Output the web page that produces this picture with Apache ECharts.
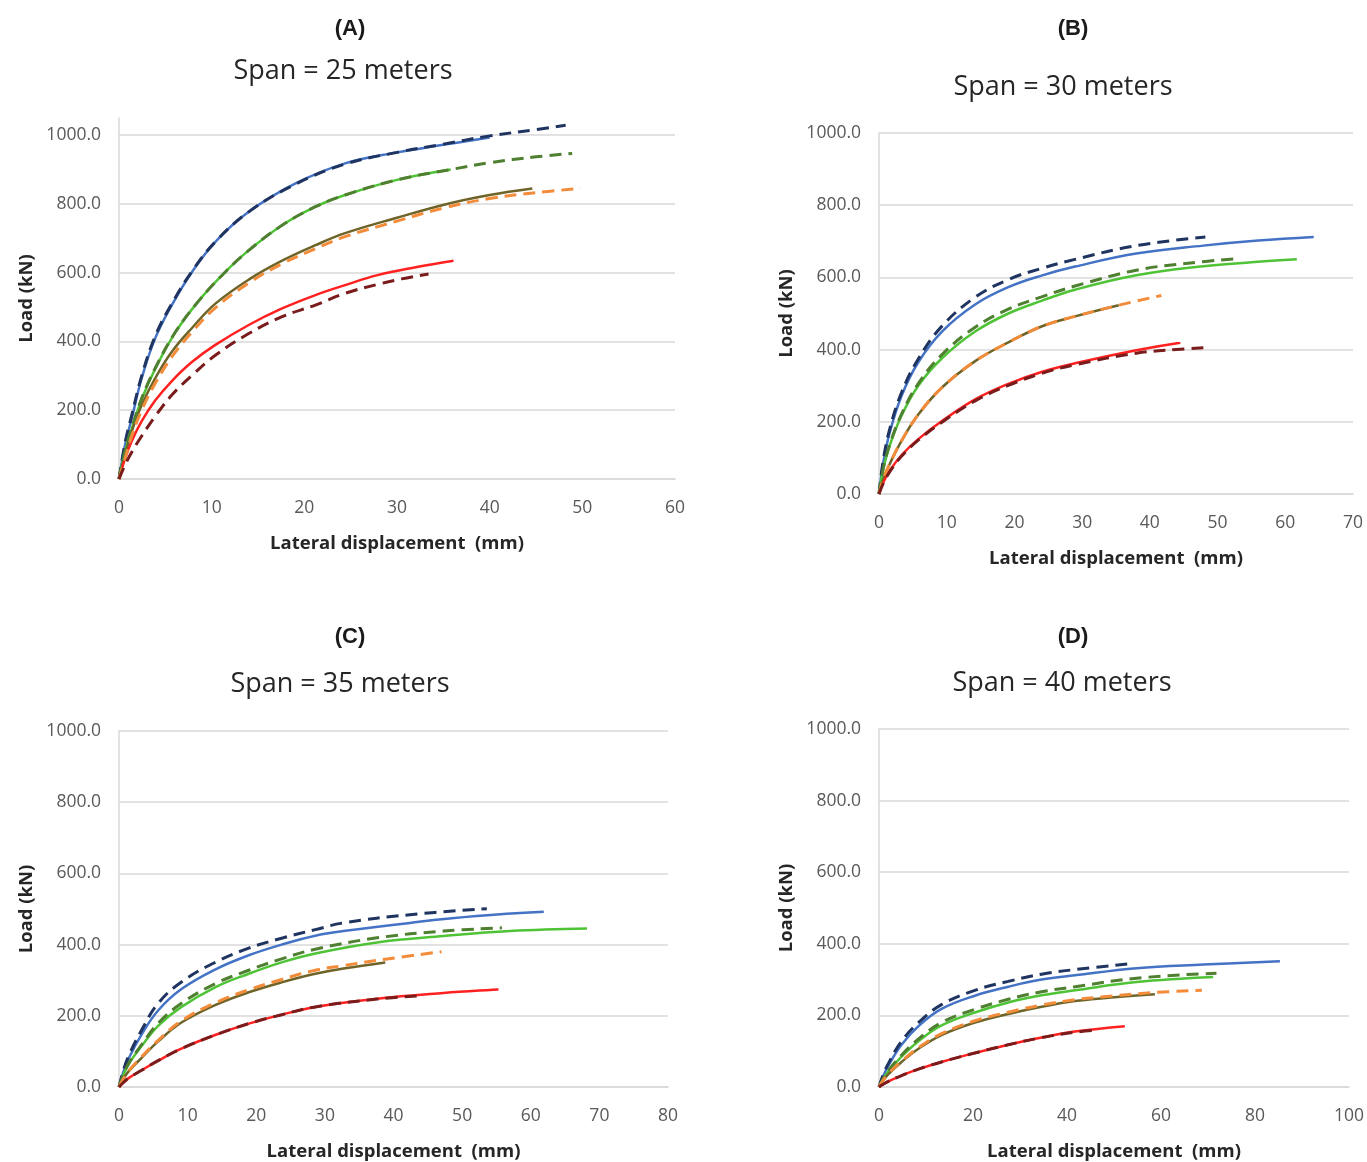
<!DOCTYPE html>
<html><head><meta charset="utf-8">
<script src="https://cdn.jsdelivr.net/npm/echarts@6/dist/echarts.min.js"></script>
<style>html,body{margin:0;padding:0;background:#fff}#c{width:1367px;height:1162px}</style>
</head><body><div id="c"></div>
<script>
// ---------- DATA (lateral displacement mm, load kN) ----------
// Panel A: span 25 m
var aBlue    = [[0,0],[0.65,99],[1.37,176],[2.45,293],[3.9,409],[5.7,506],[7.9,603],[10.4,690],[14,777],[19,859],[24.4,918],[30,950],[35,972],[40,993]];
var aNavy    = [[0,0],[0.65,105],[1.37,185],[2.45,300],[3.9,415],[5.7,510],[7.9,605],[10.4,690],[14,777],[19,857],[24.4,916],[30,950],[35,974],[40,998],[45,1016],[48.2,1029]];
var aGreen   = [[0,0],[0.6,75],[1.37,145],[2.45,232],[3.9,320],[6.05,425],[8.6,518],[11.5,603],[14,665],[17.6,738],[21.2,792],[24.4,826],[30,870],[35.8,900]];
var aDkGreen = [[0,0],[0.6,77],[1.37,148],[2.45,235],[3.9,322],[6.05,426],[8.6,518],[11.5,603],[14,665],[17.6,738],[21.2,792],[24.4,826],[30,870],[35.8,900],[40,920],[45,937],[48.9,947]];
var aOlive   = [[0,0],[0.6,65],[1.37,138],[2.45,215],[3.9,293],[5.7,370],[7.9,440],[10.4,510],[14,580],[17.6,635],[21.2,680],[24.4,715],[30,760],[35.4,800],[40,826],[44.6,845]];
var aOrange  = [[0,0],[0.6,55],[1.37,125],[2.45,200],[3.9,278],[5.7,355],[7.9,428],[10.4,498],[14,570],[17.6,626],[21.2,670],[24.4,705],[30,750],[35,788],[40,816],[45,833],[49.8,845]];
var aRed     = [[0,0],[0.6,55],[1.37,110],[2.45,168],[3.9,228],[5.7,285],[7.9,341],[10.4,390],[14,448],[17.6,496],[21.2,535],[24.4,564],[27.9,593],[32,616],[36.1,635]];
var aDkRed   = [[0,0],[0.6,38],[1.37,78],[2.45,125],[3.9,182],[5.7,244],[7.9,302],[10.4,360],[14,423],[17.6,472],[21.2,506],[24.4,540],[27.9,566],[30.5,582],[33.4,596]];
// Panel B: span 30 m
var bBlue    = [[0,0],[0.64,88],[1.6,171],[3.35,273],[5.8,365],[9.3,450],[14.2,525],[19.1,573],[24,605],[28.95,630],[38,666],[47.9,688],[56,702],[64.2,712]];
var bNavy    = [[0,0],[0.64,95],[1.6,181],[3.35,282],[5.8,374],[9.3,465],[14.2,545],[19.1,594],[24,625],[28.95,650],[38,688],[48.2,712]];
var bGreen   = [[0,0],[0.64,70],[1.6,135],[3.35,218],[5.8,300],[9.3,376],[14.2,450],[19.1,500],[24,535],[28.95,566],[38,606],[47.9,631],[55,642],[61.7,650]];
var bDkGreen = [[0,0],[0.64,72],[1.6,138],[3.35,222],[5.8,306],[9.3,386],[14.2,462],[19.1,512],[24,546],[28.95,576],[38,620],[46,640],[52.8,652]];
var bOlive   = [[0,0],[0.64,42],[1.6,84],[3.35,148],[5.8,220],[9.3,295],[14.2,368],[19.1,420],[24,464],[28.95,492],[35.4,523]];
var bOrange  = [[0,0],[0.64,42],[1.6,84],[3.35,148],[5.8,220],[9.3,295],[14.2,368],[19.1,420],[24,464],[28.95,492],[35.4,523],[41.7,550]];
var bRed     = [[0,0],[0.64,32],[1.6,65],[3.35,108],[5.8,152],[9.3,202],[14.2,262],[19.1,305],[24,338],[28.95,362],[38,398],[44.5,419]];
var bDkRed   = [[0,0],[0.64,30],[1.6,62],[3.35,105],[5.8,149],[9.3,199],[14.2,258],[19.1,301],[24,334],[28.95,358],[38,390],[44.5,401],[47.9,405]];
// Panel C: span 35 m
var cBlue    = [[0,0],[0.6,40],[1.4,80],[3.3,148],[5.7,215],[9.1,275],[14,330],[18.9,370],[23.7,400],[28.6,425],[32.7,438],[42.4,461],[52.1,480],[61.9,492]];
var cNavy    = [[0,0],[0.6,44],[1.4,87],[3.3,160],[5.7,235],[9.1,295],[14,350],[18.9,390],[23.7,418],[28.6,442],[32.7,461],[42.4,484],[53.6,501]];
var cGreen   = [[0,0],[0.6,32],[1.4,64],[3.3,115],[5.7,172],[9.1,225],[14,280],[18.9,318],[23.7,350],[28.6,375],[37.6,406],[47.3,424],[57,438],[68.2,445]];
var cDkGreen = [[0,0],[0.6,33],[1.4,66],[3.3,119],[5.7,179],[9.1,235],[14,290],[18.9,328],[23.7,360],[28.6,387],[37.6,419],[47.3,438],[55.8,447]];
var cOlive   = [[0,0],[0.6,22],[1.4,44],[3.3,82],[5.7,128],[9.1,181],[14,230],[18.9,266],[23.7,294],[28.6,318],[32.7,333],[38.8,350]];
var cOrange  = [[0,0],[0.6,22],[1.4,45],[3.3,85],[5.7,131],[9.1,186],[14,236],[18.9,273],[23.7,302],[28.6,328],[32.7,341],[38.8,359],[47,380]];
var cRed     = [[0,0],[0.6,12],[1.4,25],[3.3,47],[5.7,74],[9.1,108],[14,146],[18.9,178],[23.7,203],[28.6,225],[37.6,248],[47.3,264],[55.3,274]];
var cDkRed   = [[0,0],[0.6,12],[1.4,25],[3.3,47],[5.7,74],[9.1,108],[14,146],[18.9,178],[23.7,203],[28.6,225],[37.6,247],[44.4,257]];
// Panel D: span 40 m
var dBlue    = [[0,0],[0.8,28],[2,60],[4.8,118],[8.4,170],[13.3,218],[20.4,255],[27.5,280],[34.6,300],[41.7,312],[54.8,332],[69,342],[85.3,351]];
var dNavy    = [[0,0],[0.8,31],[2,66],[4.8,128],[8.4,180],[13.3,230],[20.4,270],[27.5,295],[34.6,315],[41.7,328],[54.1,345]];
var dGreen   = [[0,0],[0.8,20],[2,44],[4.8,85],[8.4,128],[13.3,172],[20.4,208],[27.5,236],[34.6,256],[41.7,270],[54.8,293],[71.1,307]];
var dDkGreen = [[0,0],[0.8,21],[2,46],[4.8,89],[8.4,134],[13.3,180],[20.4,217],[27.5,245],[34.6,266],[41.7,280],[54.8,304],[71.8,318]];
var dOlive   = [[0,0],[0.8,17],[2,36],[4.8,70],[8.4,107],[13.3,145],[20.4,180],[27.5,204],[34.6,224],[41.7,240],[47.7,248],[58.7,259]];
var dOrange  = [[0,0],[0.8,17],[2,37],[4.8,72],[8.4,110],[13.3,149],[20.4,185],[27.5,209],[34.6,229],[41.7,244],[47.7,252],[58.7,264],[68.7,270]];
var dRed     = [[0,0],[0.8,7],[2,16],[4.8,32],[8.4,50],[13.3,70],[20.4,95],[27.5,118],[34.6,138],[41.7,155],[52.3,170]];
var dDkRed   = [[0,0],[0.8,7],[2,16],[4.8,32],[8.4,50],[13.3,70],[20.4,95],[27.5,118],[34.6,138],[41.7,153],[46.3,159]];

var panelLetters = ['(A)','(B)','(C)','(D)'];
var panelSpans   = ['Span = 25 meters','Span = 30 meters','Span = 35 meters','Span = 40 meters'];
var xMaxes       = [60, 70, 80, 100];
var xIntervals   = [10, 10, 10, 20];
var yTicks       = [0, 200, 400, 600, 800, 1000];
var xName = 'Lateral displacement  (mm)';
var yName = 'Load (kN)';

// ---------- LAYOUT ----------
var panelSeries = [
  {solid:[aBlue,aGreen,aOlive,aRed], dashed:[aNavy,aDkGreen,aOrange,aDkRed]},
  {solid:[bBlue,bGreen,bOlive,bRed], dashed:[bNavy,bDkGreen,bOrange,bDkRed]},
  {solid:[cBlue,cGreen,cOlive,cRed], dashed:[cNavy,cDkGreen,cOrange,cDkRed]},
  {solid:[dBlue,dGreen,dOlive,dRed], dashed:[dNavy,dDkGreen,dOrange,dDkRed]}
];
var solidColors  = ['#4472C4','#4FC336','#6E6428','#FF2020'];
var dashedColors = ['#1F3460','#4F7F30','#F28C3A','#7A1C1C'];
var grids = [
  {left:119, top:118, width:556, height:361, yMax:1050},
  {left:879, top:133, width:474, height:361, yMax:1000},
  {left:119, top:731, width:549, height:360, yMax:1000},
  {left:879, top:729, width:470, height:362, yMax:1000}
];
var titlePos = [
  {lx:350, ly:29, sx:343, sy:71},
  {lx:1073, ly:29, sx:1063, sy:87},
  {lx:350, ly:637, sx:340, sy:684},
  {lx:1073, ly:637, sx:1062, sy:683}
];
var labelColor = '#595959';
var font = '"Open Sans", "Liberation Sans", sans-serif';

var option = {
  backgroundColor:'#ffffff',
  animation:false,
  grid:[], xAxis:[], yAxis:[], series:[], graphic:[]
};
grids.forEach(function(g, i){
  option.grid.push({left:g.left, top:g.top, width:g.width, height:g.height, containLabel:false});
  option.xAxis.push({
    type:'value', gridIndex:i, min:0, max:xMaxes[i], interval:xIntervals[i],
    name:xName, nameLocation:'middle', nameGap:55,
    nameTextStyle:{fontFamily:font, fontWeight:'bold', fontSize:18.5, color:'#262626'},
    axisLine:{show:true, lineStyle:{color:'#d9d9d9', width:1.5}},
    axisTick:{show:false},
    splitLine:{show:false},
    axisLabel:{margin:20, color:labelColor, fontFamily:font, fontSize:17.5}
  });
  var gridColors = yTicks.map(function(){return '#d9d9d9';});
  gridColors.push('rgba(0,0,0,0)');
  option.yAxis.push({
    type:'value', gridIndex:i, min:0, max:g.yMax, interval:200,
    name:yName, nameLocation:'middle', nameGap:83, nameRotate:90,
    nameTextStyle:{fontFamily:font, fontWeight:'bold', fontSize:18.5, color:'#262626'},
    axisLine:{show:true, lineStyle:{color:'#d9d9d9', width:1.5}},
    axisTick:{show:false},
    splitLine:{show:true, lineStyle:{color:gridColors, width:1.5}},
    axisLabel:{margin:18, color:labelColor, fontFamily:font, fontSize:17.5,
      formatter:function(v){ return v > 1000 ? '' : v.toFixed(1); }}
  });
  var ps = panelSeries[i];
  ps.solid.forEach(function(d, k){
    option.series.push({type:'line', xAxisIndex:i, yAxisIndex:i, data:d, showSymbol:false,
      smooth:0.4, lineStyle:{color:solidColors[k], width:2.5}, z:2});
  });
  ps.dashed.forEach(function(d, k){
    option.series.push({type:'line', xAxisIndex:i, yAxisIndex:i, data:d, showSymbol:false,
      smooth:0.4, lineStyle:{color:dashedColors[k], width:3, type:[12,7]}, z:3});
  });
  var t = titlePos[i];
  option.graphic.push({type:'text', x:t.lx, y:t.ly, style:{text:panelLetters[i], fill:'#1a1a1a',
    font:'bold 22px "Liberation Sans", Arial, sans-serif', textAlign:'center', textVerticalAlign:'middle'}});
  option.graphic.push({type:'text', x:t.sx, y:t.sy, style:{text:panelSpans[i], fill:'#262626',
    font:'27px "Open Sans", sans-serif', textAlign:'center', textVerticalAlign:'middle'}});
});

var chart = echarts.init(document.getElementById('c'), null, {renderer:'canvas'});
chart.setOption(option);
</script>
</body></html>
